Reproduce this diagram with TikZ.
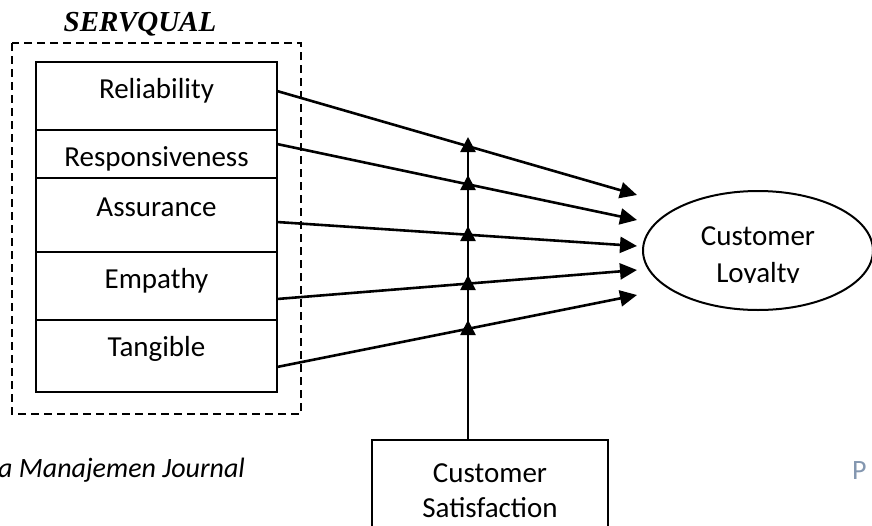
\documentclass[tikz,border=0pt]{standalone}
\usepackage{fontspec}
\setmainfont{Carlito}
\newfontfamily\timesfont{Liberation Serif}
\usepackage{xcolor}
\usetikzlibrary{shapes.geometric,arrows.meta,positioning}

\definecolor{pgray}{RGB}{132,151,176}

\tikzset{
	dimbox/.style={draw, line width=2pt, minimum width=241, anchor=north, inner sep=0pt},
	dimtext/.style={anchor=center, yshift=-30pt},
	arr/.style={line width=2.6pt, -{Triangle[length=17pt,width=16pt]}},
	uparr/.style={line width=2.6pt, -{Triangle[length=15pt,width=15pt]}}
}

\begin{document}
\begin{tikzpicture}[x=1pt,y=-1pt,font=\fontsize{29}{36}\selectfont]
	\useasboundingbox (0,0) rectangle (872,525);

	% servqual group
	\node[font=\timesfont\bfseries\itshape\fontsize{29}{35}\selectfont] (sq) at (140,24) {SERVQUAL};
	\draw[dash pattern=on 8pt off 5pt, line width=1.8pt] (12,43) rectangle (301,414);

	\foreach \nm/\txt/\ytop/\h in {rel/Reliability/61/68, res/Responsiveness/129/48, ass/Assurance/177/74, emp/Empathy/251/68, tan/Tangible/319/72}
		\node[dimbox, minimum height=\h, label={[dimtext]north:\txt}] (\nm) at (156.5,\ytop) {};

	\node[draw, ellipse, line width=2pt, minimum width=230, minimum height=119] (loy) at (758,250.5) {};
	\begin{scope}
		\clip (640,185) rectangle (872,282);
		\node[align=center, font=\fontsize{29}{37}\selectfont] (loytext) at ([yshift=-6pt]loy.center) {Customer\\Loyalty};
	\end{scope}

	\node[draw, line width=2pt, minimum width=236, minimum height=101, anchor=north, align=center, font=\fontsize{29}{35}\selectfont] (sat) at (490,439) {Customer\\Satisfaction};

	% start, end and crossing points
	\foreach \i/\sy/\ty/\cy in {1/91/195/146, 2/144/220/184, 3/222/246/235, 4/299/270/284, 5/367/295/329}{
		\coordinate (s\i) at (277,\sy);
		\coordinate (t\i) at (637,\ty);
		\coordinate (c\i) at (468,\cy);
	}

	\foreach \i in {1,...,5}
		\draw[arr] (s\i) -- (t\i);

	\draw[uparr] (sat.north -| c5) -- ([yshift=9pt]c5);
	\foreach \a/\b in {5/4, 4/3, 3/2, 2/1}
		\draw[uparr] (c\a) -- ([yshift=9pt]c\b);

	% page footer
	\node[anchor=base west, inner sep=0pt, font=\itshape\fontsize{28}{32}\selectfont] (jrnl) at (-2,477) {a Manajemen Journal};
	\node[anchor=base west, inner sep=0pt, text=pgray, font=\fontsize{28}{32}\selectfont] (pg) at (852,479) {P};
\end{tikzpicture}
\end{document}
